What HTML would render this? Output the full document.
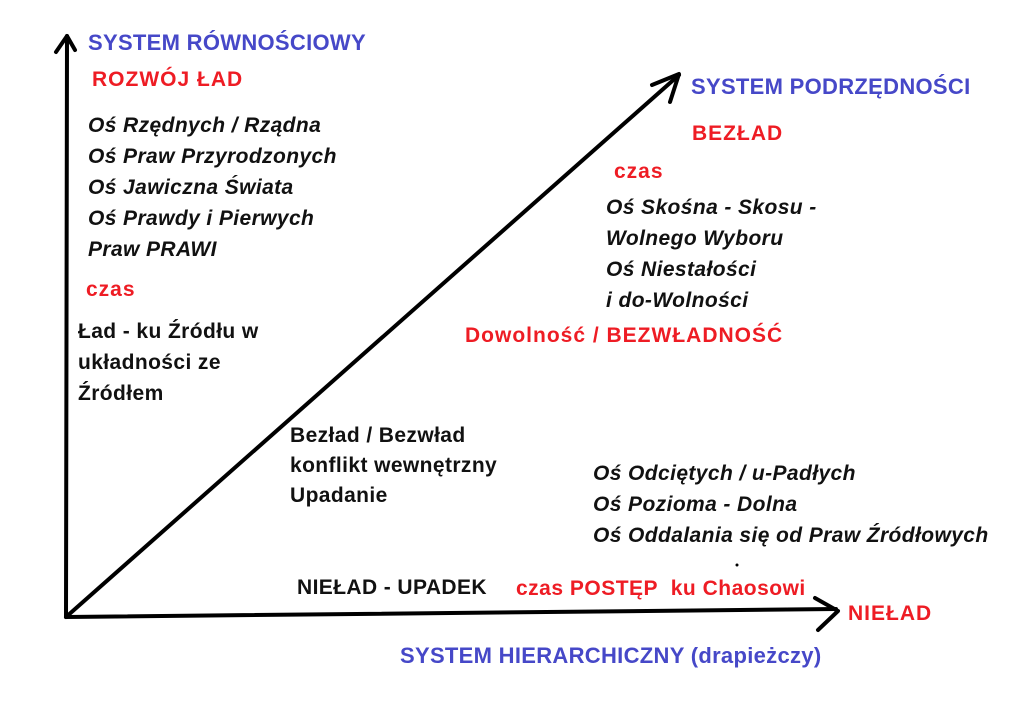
<!DOCTYPE html>
<html><head><meta charset="utf-8"><style>
body{margin:0;width:1024px;height:713px;background:#fff;position:relative;overflow:hidden;font-family:"Liberation Sans",sans-serif;font-weight:bold;font-size:21px;letter-spacing:0.4px}
.t{position:absolute;white-space:nowrap;line-height:31px}
.b{color:#4648c8;font-size:22px;letter-spacing:0.3px}
.r{color:#ee1c24;letter-spacing:1px}
.k{color:#111}
.i{font-style:italic}
svg{position:absolute;left:0;top:0}
</style></head><body>
<svg width="1024" height="713" viewBox="0 0 1024 713">
<g stroke="#000" stroke-width="4" fill="none" stroke-linecap="round" stroke-linejoin="round">
<line x1="66" y1="617" x2="67" y2="36"/>
<polyline points="56,52 67,36 75,50"/>
<line x1="66" y1="617" x2="836" y2="609"/>
<polyline points="815,598 838,611 818,630"/>
<line x1="66" y1="617" x2="679" y2="75"/>
<polyline points="652,85 679,74 670,102"/>
</g>
<circle cx="737" cy="565" r="1.5" fill="#000"/>
</svg>
<div class="t b" style="left:88px;top:27px">SYSTEM RÓWNOŚCIOWY</div>
<div class="t r" style="left:92px;top:64px">ROZWÓJ ŁAD</div>
<div class="t k i" style="left:88px;top:110px">Oś Rzędnych / Rządna<br>Oś Praw Przyrodzonych<br>Oś Jawiczna Świata<br>Oś Prawdy i Pierwych<br>Praw PRAWI</div>
<div class="t r" style="left:86px;top:274px">czas</div>
<div class="t k" style="left:78px;top:316px">Ład - ku Źródłu w<br>układności ze<br>Źródłem</div>
<div class="t b" style="left:691px;top:71px">SYSTEM PODRZĘDNOŚCI</div>
<div class="t r" style="left:692px;top:118px">BEZŁAD</div>
<div class="t r" style="left:614px;top:156px">czas</div>
<div class="t k i" style="left:606px;top:192px">Oś Skośna - Skosu -<br>Wolnego Wyboru<br>Oś Niestałości<br>i do-Wolności</div>
<div class="t r" style="left:465px;top:320px">Dowolność / BEZWŁADNOŚĆ</div>
<div class="t k" style="left:290px;top:421px;line-height:30px">Bezład / Bezwład<br>konflikt wewnętrzny<br>Upadanie</div>
<div class="t k i" style="left:593px;top:458px">Oś Odciętych / u-Padłych<br>Oś Pozioma - Dolna<br>Oś Oddalania się od Praw Źródłowych</div>
<div class="t k" style="left:297px;top:572px">NIEŁAD - UPADEK</div>
<div class="t r" style="left:516px;top:573px;letter-spacing:0.5px">czas POSTĘP&nbsp; ku Chaosowi</div>
<div class="t r" style="left:848px;top:598px">NIEŁAD</div>
<div class="t b" style="left:400px;top:640px">SYSTEM HIERARCHICZNY (drapieżczy)</div>
</body></html>
